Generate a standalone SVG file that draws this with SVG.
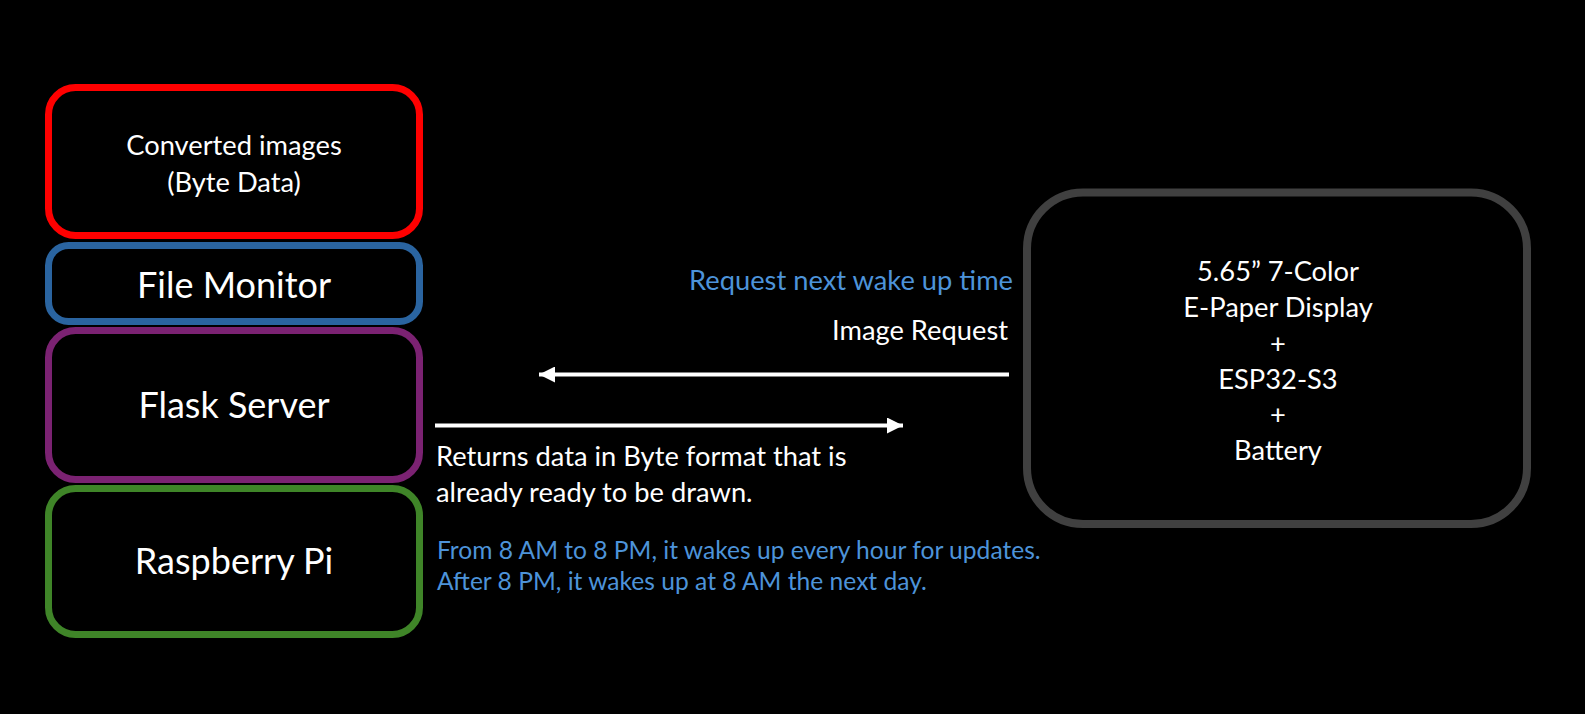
<svg xmlns="http://www.w3.org/2000/svg" width="1585" height="714" viewBox="0 0 1585 714">
<style>
.box{fill:#000;stroke-width:7}
.t{font-family:Lato,"Open Sans","Liberation Sans",sans-serif;fill:#fff}
.c{text-anchor:middle}
.m{font-size:27.3px}
.big{font-size:36px}
.blue{fill:#4d93d9}
.conn{stroke:#fff;stroke-width:4;fill:none}
</style>
<defs>
<marker id="ah" viewBox="0 0 10 10" refX="10" refY="5" markerWidth="4" markerHeight="4" orient="auto" markerUnits="strokeWidth">
<path d="M0,0 L10,5 L0,10 z" fill="#fff"/>
</marker>
</defs>
<rect width="1585" height="714" fill="#000"/>
<g id="converted">
<rect class="box" x="48.5" y="87.5" width="371" height="148" rx="27" stroke="#ff0000"/>
<text class="t c m" x="234" y="155">Converted images</text>
<text class="t c m" x="234" y="192">(Byte Data)</text>
</g>
<g id="filemonitor">
<rect class="box" x="48.5" y="245.5" width="371" height="76" rx="20" stroke="#2a64a0"/>
<text class="t c big" x="234" y="298">File Monitor</text>
</g>
<g id="flask">
<rect class="box" x="48.5" y="330.5" width="371" height="149" rx="27" stroke="#7b2272"/>
<text class="t c big" x="234" y="418">Flask Server</text>
</g>
<g id="raspi">
<rect class="box" x="48.5" y="488.5" width="371" height="146" rx="27" stroke="#3f8528"/>
<text class="t c big" x="234" y="574">Raspberry Pi</text>
</g>
<g id="epaper">
<rect x="1027" y="192.5" width="500" height="331.5" rx="56" fill="#000" stroke="#404040" stroke-width="8"/>
<text class="t c m" x="1278" y="281">5.65” 7-Color</text>
<text class="t c m" x="1278" y="317">E-Paper Display</text>
<text class="t c m" x="1278" y="353">+</text>
<text class="t c m" x="1278" y="389">ESP32-S3</text>
<text class="t c m" x="1278" y="424">+</text>
<text class="t c m" x="1278" y="460">Battery</text>
</g>
<g id="connectors">
<line class="conn" x1="1009" y1="374.5" x2="539" y2="374.5" marker-end="url(#ah)"/>
<line class="conn" x1="435" y1="425.5" x2="903" y2="425.5" marker-end="url(#ah)"/>
</g>
<g id="labels">
<text class="t blue m" x="1013" y="290" text-anchor="end">Request next wake up time</text>
<text class="t m" x="1008" y="340" text-anchor="end">Image Request</text>
<text class="t m" x="436" y="466">Returns data in Byte format that is</text>
<text class="t m" x="436" y="502">already ready to be drawn.</text>
<text class="t blue" x="437" y="559" font-size="24.6">From 8 AM to 8 PM, it wakes up every hour for updates.</text>
<text class="t blue" x="437" y="590" font-size="24.6">After 8 PM, it wakes up at 8 AM the next day.</text>
</g>
</svg>
